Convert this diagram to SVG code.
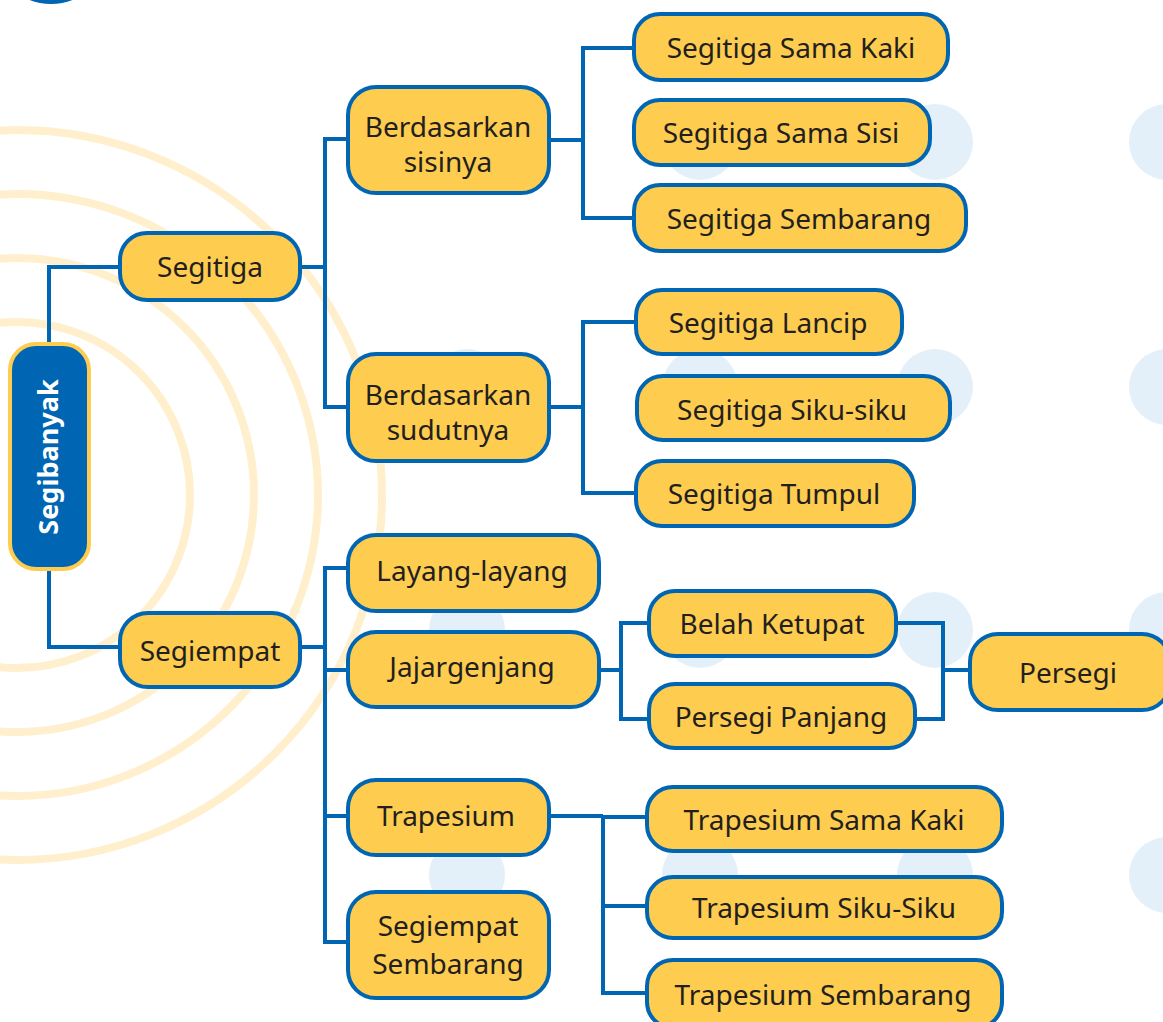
<svg xmlns="http://www.w3.org/2000/svg" width="1163" height="1022" viewBox="0 0 1163 1022">
<style>
.bg{fill:#E4F0F9}
.arc{fill:none;stroke:#FFEFCC;stroke-width:8}
.n rect{fill:#FECC4E;stroke:#0066B3;stroke-width:4}
.n text{font-family:"Noto Sans","Open Sans",sans-serif;font-size:28px;fill:#231F20;text-anchor:middle}
.c path{fill:none;stroke:#0066B3;stroke-width:4}
</style>
<rect width="1163" height="1022" fill="#FFFFFF"/>
<g id="background">
<circle cx="51" cy="-53" r="55" fill="none" stroke="#0066B3" stroke-width="4"/>
<circle class="arc" cx="17" cy="495" r="173"/>
<circle class="arc" cx="17" cy="495" r="237"/>
<circle class="arc" cx="17" cy="495" r="301"/>
<circle class="arc" cx="17" cy="495" r="365"/>
<circle class="bg" cx="467" cy="142" r="38"/><circle class="bg" cx="700" cy="142" r="38"/><circle class="bg" cx="935" cy="142" r="38"/><circle class="bg" cx="1167" cy="142" r="38"/>
<circle class="bg" cx="467" cy="387" r="38"/><circle class="bg" cx="700" cy="387" r="38"/><circle class="bg" cx="935" cy="387" r="38"/><circle class="bg" cx="1167" cy="387" r="38"/>
<circle class="bg" cx="467" cy="630" r="38"/><circle class="bg" cx="700" cy="630" r="38"/><circle class="bg" cx="935" cy="630" r="38"/><circle class="bg" cx="1167" cy="630" r="38"/>
<circle class="bg" cx="467" cy="875" r="38"/><circle class="bg" cx="700" cy="875" r="38"/><circle class="bg" cx="935" cy="875" r="38"/><circle class="bg" cx="1167" cy="875" r="38"/>
</g>
<g id="connectors" class="c">
<path d="M49,344 V267 H120"/>
<path d="M49,569 V647 H120"/>
<path d="M300,267 H325"/>
<path d="M348,139 H325 V407 H348"/>
<path d="M549,140 H583"/>
<path d="M634,48 H583 V218 H634"/>
<path d="M549,407 H583"/>
<path d="M636,322 H583 V493 H636"/>
<path d="M300,647 H325"/>
<path d="M348,568 H325 V942 H348"/>
<path d="M325,670 H348"/>
<path d="M325,816 H348"/>
<path d="M599,670 H621"/>
<path d="M649,623 H621 V719 H649"/>
<path d="M896,623 H943 V719 H915"/>
<path d="M943,670 H970"/>
<path d="M549,816 H603"/>
<path d="M647,817 H603 V993 H647"/>
<path d="M603,906 H647"/>
</g>
<g id="segibanyak">
<rect x="10" y="344" width="79" height="225" rx="26" fill="#0066B3" stroke="#FECC4E" stroke-width="4"/>
<text transform="translate(58,457) rotate(-90)" text-anchor="middle" font-family="'Noto Sans','Open Sans',sans-serif" font-size="27" font-weight="bold" fill="#FFFFFF">Segibanyak</text>
</g>
<g id="segitiga" class="n"><rect x="120" y="233" width="180" height="67" rx="27"/><text x="210" y="277">Segitiga</text></g>
<g id="segiempat" class="n"><rect x="120" y="613" width="180" height="74" rx="28"/><text x="210" y="661">Segiempat</text></g>
<g id="berdasarkan-sisinya" class="n"><rect x="348" y="87" width="201" height="106" rx="28"/><text x="448" y="137">Berdasarkan</text><text x="448" y="172">sisinya</text></g>
<g id="berdasarkan-sudutnya" class="n"><rect x="348" y="354" width="201" height="107" rx="28"/><text x="448" y="405">Berdasarkan</text><text x="448" y="440">sudutnya</text></g>
<g id="segitiga-sama-kaki" class="n"><rect x="634" y="14" width="314" height="66" rx="26"/><text x="791" y="58">Segitiga Sama Kaki</text></g>
<g id="segitiga-sama-sisi" class="n"><rect x="634" y="100" width="296" height="65" rx="26"/><text x="781" y="143">Segitiga Sama Sisi</text></g>
<g id="segitiga-sembarang" class="n"><rect x="634" y="185" width="332" height="66" rx="26"/><text x="799" y="229">Segitiga Sembarang</text></g>
<g id="segitiga-lancip" class="n"><rect x="636" y="290" width="266" height="64" rx="26"/><text x="768" y="333">Segitiga Lancip</text></g>
<g id="segitiga-siku-siku" class="n"><rect x="637" y="376" width="313" height="64" rx="26"/><text x="792" y="420">Segitiga Siku-siku</text></g>
<g id="segitiga-tumpul" class="n"><rect x="636" y="461" width="278" height="65" rx="26"/><text x="774" y="504">Segitiga Tumpul</text></g>
<g id="layang-layang" class="n"><rect x="348" y="535" width="251" height="76" rx="28"/><text x="472" y="581">Layang-layang</text></g>
<g id="jajargenjang" class="n"><rect x="348" y="632" width="251" height="75" rx="28"/><text x="472" y="677">Jajargenjang</text></g>
<g id="trapesium" class="n"><rect x="348" y="780" width="201" height="75" rx="28"/><text x="446" y="826">Trapesium</text></g>
<g id="segiempat-sembarang" class="n"><rect x="348" y="892" width="201" height="106" rx="28"/><text x="448" y="936">Segiempat</text><text x="448" y="974">Sembarang</text></g>
<g id="belah-ketupat" class="n"><rect x="649" y="591" width="247" height="65" rx="26"/><text x="772" y="634">Belah Ketupat</text></g>
<g id="persegi-panjang" class="n"><rect x="649" y="684" width="266" height="64" rx="26"/><text x="781" y="727">Persegi Panjang</text></g>
<g id="persegi" class="n"><rect x="970" y="634" width="200" height="76" rx="28"/><text x="1068" y="683">Persegi</text></g>
<g id="trapesium-sama-kaki" class="n"><rect x="647" y="787" width="355" height="64" rx="26"/><text x="824" y="830">Trapesium Sama Kaki</text></g>
<g id="trapesium-siku-siku" class="n"><rect x="647" y="877" width="355" height="61" rx="26"/><text x="824" y="918">Trapesium Siku-Siku</text></g>
<g id="trapesium-sembarang" class="n"><rect x="647" y="960" width="355" height="68" rx="26"/><text x="823" y="1005">Trapesium Sembarang</text></g>
</svg>
